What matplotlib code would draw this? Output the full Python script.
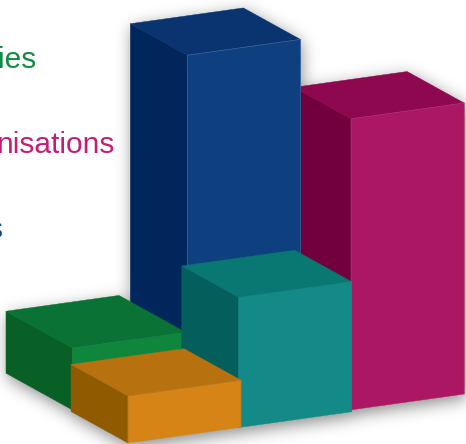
import matplotlib
matplotlib.use("Agg")
import matplotlib.pyplot as plt
from matplotlib.patches import Polygon
from matplotlib.path import Path
import numpy as np

# Data
names = ["magenta", "blue", "green", "teal", "orange"]
heights = [291, 340, 62, 130, 47]
labels = ["ies", "nisations", "s"]

# Layout
cols = [2.0, 1.03, 0.03, 0.98, 0.0]
rows = [0.05, 1.0, 1.03, 0.0, 0.0]
depths = [1.0, 1.0, 1.17, 1.0, 1.0]
ORIGIN = np.array([128.0, 443.0])
W = np.array([113.0, -15.8])
D = np.array([-57.0, -31.5])
front = ["#AC1763", "#0E4080", "#0E873D", "#138A88", "#D78417"]
top = ["#8E0850", "#0A3470", "#0A7234", "#0A7872", "#B7720F"]
side = ["#72003F", "#00265C", "#096026", "#045E5C", "#905A00"]
edge = ["#A83A75", "#3F6AA0", "#1F8048", "#1A8480", "#B07A20"]
label_colors = ["#0E8C44", "#C41C78", "#0E4488"]
label_right = [36.5, 115, 2.5]
label_base = [67.5, 153, 237.5]

WIDTH, HEIGHT = 466, 444
fig = plt.figure(figsize=(WIDTH / 100, HEIGHT / 100), dpi=100, facecolor="white")
ax = fig.add_axes([0, 0, 1, 1])


def faces(col, row, depth, h):
    f = ORIGIN + col * W + row * D
    up = np.array([0.0, -h])
    d = D * depth
    fr = [f, f + W, f + W + up, f + up]
    sd = [f + d, f, f + up, f + d + up]
    tp = [f + up, f + W + up, f + W + up + d, f + up + d]
    return fr, sd, tp


# soft drop shadow: silhouette of all bars, offset and blurred
pad = 40
yy, xx = np.mgrid[-pad:HEIGHT + pad, -pad:WIDTH + pad]
pts = np.column_stack([xx.ravel() + 0.5, yy.ravel() + 0.5])
mask = np.zeros(xx.shape, dtype=float)
for c, r, dp, h in zip(cols, rows, depths, heights):
    for poly in faces(c, r, dp, h):
        inside = Path(np.array(poly) + [2.0, 5.0]).contains_points(pts)
        mask[inside.reshape(xx.shape)] = 1.0
sigma = 8.0
fy = np.fft.fftfreq(mask.shape[0])[:, None]
fx = np.fft.fftfreq(mask.shape[1])[None, :]
blur = np.fft.ifft2(np.fft.fft2(mask) * np.exp(-2 * (np.pi * sigma) ** 2 * (fx ** 2 + fy ** 2))).real
rgba = np.zeros(mask.shape + (4,))
rgba[..., 3] = np.clip(blur, 0, 1) * 0.45
ax.imshow(rgba, extent=(-pad, WIDTH + pad, HEIGHT + pad, -pad), interpolation="bilinear", zorder=1)

ax.set_xlim(0, WIDTH)
ax.set_ylim(HEIGHT, 0)
ax.set_aspect("auto")
ax.axis("off")

z = 2
for c, r, dp, h, fc, tc, sc, ec in zip(cols, rows, depths, heights, front, top, side, edge):
    fr, sd, tp = faces(c, r, dp, h)
    for poly, col in ((sd, sc), (tp, tc), (fr, fc)):
        ax.add_patch(Polygon(poly, closed=True, fc=col, ec=col, lw=0.3, zorder=z,
                             joinstyle="round"))
    # thin highlight along the upper edges of the front face
    fr_arr = np.array(fr)
    ax.plot(fr_arr[[0, 3, 2, 1], 0], fr_arr[[0, 3, 2, 1], 1], color=ec, lw=0.45, zorder=z,
            solid_joinstyle="round")
    z += 1

for t, x, y, col in zip(labels, label_right, label_base, label_colors):
    ax.text(x, y, t, color=col, fontsize=21.5, family="Liberation Sans",
            ha="right", va="baseline", zorder=10)

fig.savefig("out.png", dpi=100, facecolor="white")
